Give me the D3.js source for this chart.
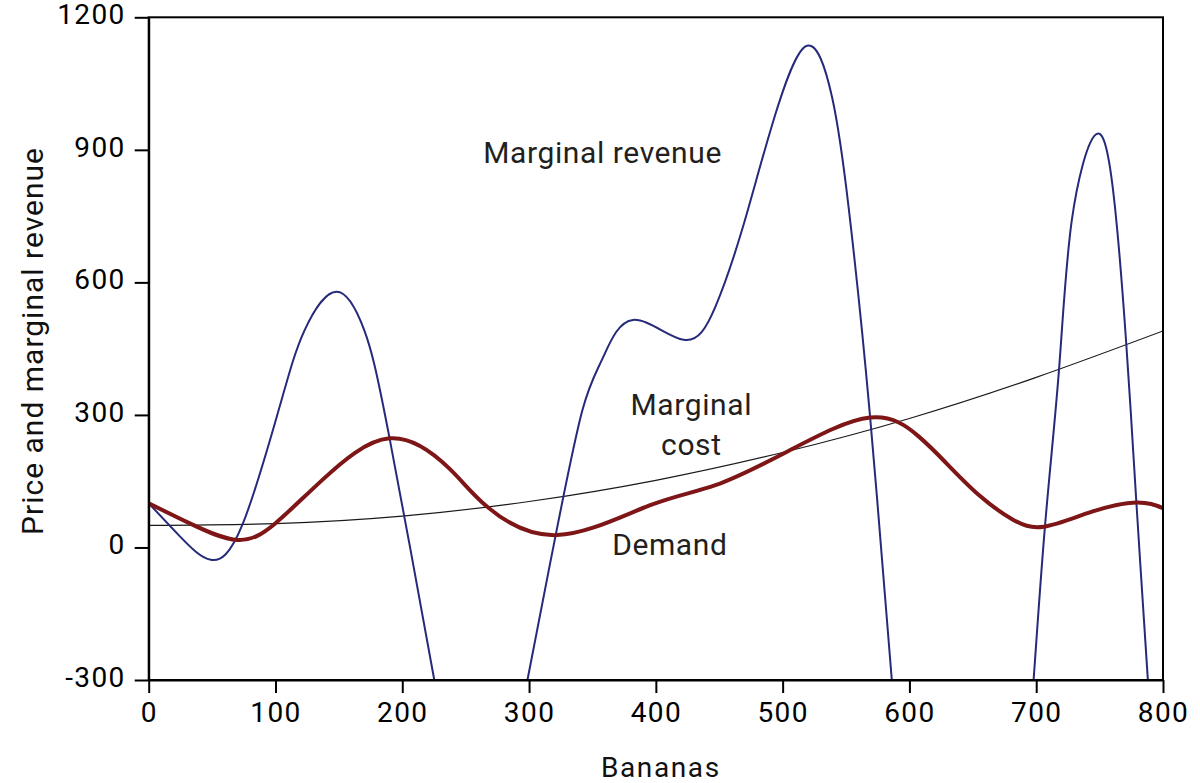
<!DOCTYPE html>
<html>
<head>
<meta charset="utf-8">
<script src="https://cdn.jsdelivr.net/npm/d3@7/dist/d3.min.js"></script>
<style>
  html, body { margin: 0; padding: 0; background: #fff; }
  svg { display: block; }
  text { font-family: Roboto, "Liberation Sans", Arial, sans-serif; }
</style>
</head>
<body>
<svg id="chart" width="1200" height="783"></svg>
<script>
// ---- data (quantity of bananas, price) ----
const xTicks = [0, 100, 200, 300, 400, 500, 600, 700, 800];
const yTicks = [-300, 0, 300, 600, 900, 1200];

const marginalCost = [
  [0, 50], [100, 54], [200, 71], [300, 104], [400, 152],
  [500, 215], [600, 292], [700, 385], [800, 490]
];

const demand = [
  [0, 100], [32, 55], [70, 17], [100, 55], [137, 153], [190, 247],
  [237, 179], [267, 92], [322, 28], [395, 95], [447, 141], [505, 219],
  [569, 294], [607, 252], [628, 194], [655, 118], [681, 64], [706, 47],
  [744, 81], [779, 102], [800, 89]
];

// marginal revenue: three visible branches (it dives below -300 between them)
const marginalRevenue1 = [
  [0, 100], [25, 24], [49, -28], [74, 52], [104, 326], [123, 492],
  [148, 579], [170, 492], [190, 247], [225, -296], [232, -420]
];
const marginalRevenue2 = [
  [292, -420], [299, -296], [321, 28], [342, 310], [358, 428], [382, 515],
  [422, 470], [447, 545], [468, 719], [490, 940], [518, 1134], [539, 1019],
  [552, 771], [569, 295], [586, -296], [591, -420]
];
const marginalRevenue3 = [
  [694, -420], [698, -297], [707, 51], [718, 403], [728, 739], [746, 932],
  [760, 823], [771, 462], [779, 102], [788, -297], [791, -420]
];

const labels = [
  { text: "Marginal revenue", q: 358, p: 870 },
  { text: "Marginal", q: 428, p: 300 },
  { text: "cost", q: 428, p: 210 },
  { text: "Demand", q: 411, p: -17 }
];

// ---- layout ----
const svg = d3.select("#chart");
const x = d3.scaleLinear().domain([0, 800]).range([148.7, 1163]);
const y = d3.scaleLinear().domain([-300, 1200]).range([680, 17.3]);

svg.append("defs").append("clipPath").attr("id", "plotclip")
  .append("rect")
  .attr("x", x(0)).attr("y", y(1200))
  .attr("width", x(800) - x(0)).attr("height", y(-300) - y(1200));

const smooth = d3.line()
  .x(d => x(d[0])).y(d => y(d[1]))
  .curve(d3.curveNatural);

const plot = svg.append("g").attr("clip-path", "url(#plotclip)");

plot.append("path").datum(marginalCost)
  .attr("d", smooth).attr("fill", "none")
  .attr("stroke", "#1a1a1a").attr("stroke-width", 1.2);

plot.selectAll("path.mr")
  .data([marginalRevenue1, marginalRevenue2, marginalRevenue3])
  .enter().append("path").attr("class", "mr")
  .attr("d", smooth).attr("fill", "none")
  .attr("stroke", "#262a7a").attr("stroke-width", 2);

plot.append("path").datum(demand)
  .attr("d", smooth).attr("fill", "none")
  .attr("stroke", "#7e1517").attr("stroke-width", 4);

// frame
svg.append("rect")
  .attr("x", x(0)).attr("y", y(1200))
  .attr("width", x(800) - x(0)).attr("height", y(-300) - y(1200))
  .attr("fill", "none").attr("stroke", "#000").attr("stroke-width", 2);

// axes
const fmt = d => String(d);
const xAxis = d3.axisBottom(x).tickValues(xTicks).tickFormat(fmt)
  .tickSize(13).tickSizeOuter(0).tickPadding(9);
const yAxis = d3.axisLeft(y).tickValues(yTicks).tickFormat(fmt)
  .tickSize(14).tickSizeOuter(0).tickPadding(9);

const gx = svg.append("g").attr("transform", `translate(0,${y(-300)})`).call(xAxis);
const gy = svg.append("g").attr("transform", `translate(${x(0)},0)`).call(yAxis);

[gx, gy].forEach(g => {
  g.select(".domain").attr("stroke", "#000").attr("stroke-width", 2);
  g.selectAll(".tick line").attr("stroke", "#000").attr("stroke-width", 2);
  g.selectAll(".tick text")
    .attr("fill", "#000")
    .style("font-size", "28px")
    .style("letter-spacing", "1.4px");
});
gy.selectAll(".tick text").attr("dy", "0.22em");
gx.selectAll(".tick text").attr("dy", "0.71em").attr("dx", "0");

// axis titles
svg.append("text")
  .attr("x", (x(0) + x(800)) / 2 + 5).attr("y", 777)
  .attr("text-anchor", "middle")
  .style("font-size", "28px").style("letter-spacing", "1.6px")
  .attr("fill", "#111")
  .text("Bananas");

svg.append("text")
  .attr("transform", `translate(43,${341}) rotate(-90)`)
  .attr("text-anchor", "middle")
  .style("font-size", "30px").style("letter-spacing", "1px")
  .attr("fill", "#111")
  .text("Price and marginal revenue");

// curve labels
svg.selectAll("text.lbl").data(labels).enter().append("text")
  .attr("class", "lbl")
  .attr("x", d => x(d.q)).attr("y", d => y(d.p))
  .attr("text-anchor", "middle")
  .style("font-size", "30px").style("letter-spacing", "0.6px")
  .attr("fill", "#231f20")
  .text(d => d.text);
</script>
</body>
</html>
